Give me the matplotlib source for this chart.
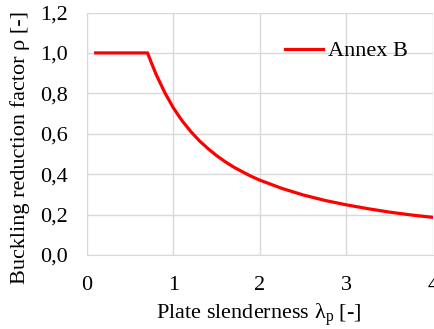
import matplotlib
matplotlib.use("Agg")
import matplotlib.pyplot as plt

plt.rcParams['font.family'] = ['Liberation Serif', 'DejaVu Serif']
plt.rcParams['mathtext.fontset'] = 'custom'
plt.rcParams['mathtext.rm'] = 'Liberation Serif'
plt.rcParams['mathtext.it'] = 'Liberation Serif:italic'

# valores
lam = [0.1, 0.7, 0.75, 0.8, 0.9, 1.0, 1.1, 1.2, 1.3, 1.4, 1.5, 1.6, 1.7, 1.8,
       1.9, 2.0, 2.25, 2.5, 2.75, 3.0, 3.25, 3.5, 3.75, 4.0]
rho = [1.0, 1.0, 0.945, 0.893, 0.803, 0.727, 0.664, 0.611, 0.565, 0.526,
       0.491, 0.461, 0.434, 0.411, 0.389, 0.370, 0.330, 0.297, 0.270, 0.248,
       0.229, 0.212, 0.198, 0.186]

xticks = [0, 1, 2, 3, 4]
yticks = [0.0, 0.2, 0.4, 0.6, 0.8, 1.0, 1.2]
ylabels = ["0,0", "0,2", "0,4", "0,6", "0,8", "1,0", "1,2"]

fig = plt.figure(figsize=(4.34, 3.29), dpi=100)
ax = fig.add_axes([0.2005, 0.225, 0.797, 0.737])
ax.plot(lam, rho, color="#ff0000", lw=2.3, label="Annex B")

ax.set_xlim(0, 4)
ax.set_ylim(0, 1.2)
ax.set_xticks(xticks)
ax.set_xticklabels([str(t) for t in xticks])
ax.set_yticks(yticks)
ax.set_yticklabels(ylabels)
ax.tick_params(length=0, labelsize=16, pad=14, colors="black")
ax.tick_params(axis="x", pad=15)
ax.grid(True, color="#d9d9d9", lw=1)
ax.set_axisbelow(True)
for s in ["top", "right"]:
    ax.spines[s].set_visible(False)
for s in ["left", "bottom"]:
    ax.spines[s].set_color("#d9d9d9")

ax.set_xlabel(r"Plate slenderness $\mathrm{\lambda}_\mathrm{p}$ [-]", fontsize=16, va="center")
ax.set_ylabel("Buckling reduction factor ρ [-]", fontsize=16, va="center")
ax.xaxis.set_label_coords(0.497, -0.245)
ax.yaxis.set_label_coords(-0.194, 0.445)

ax.legend(loc="center left", bbox_to_anchor=(0.572, 0.841), frameon=False, fontsize=16,
          handlelength=1.7, handletextpad=0.22, borderpad=0, borderaxespad=0)

fig.savefig("out.png", dpi=100)
